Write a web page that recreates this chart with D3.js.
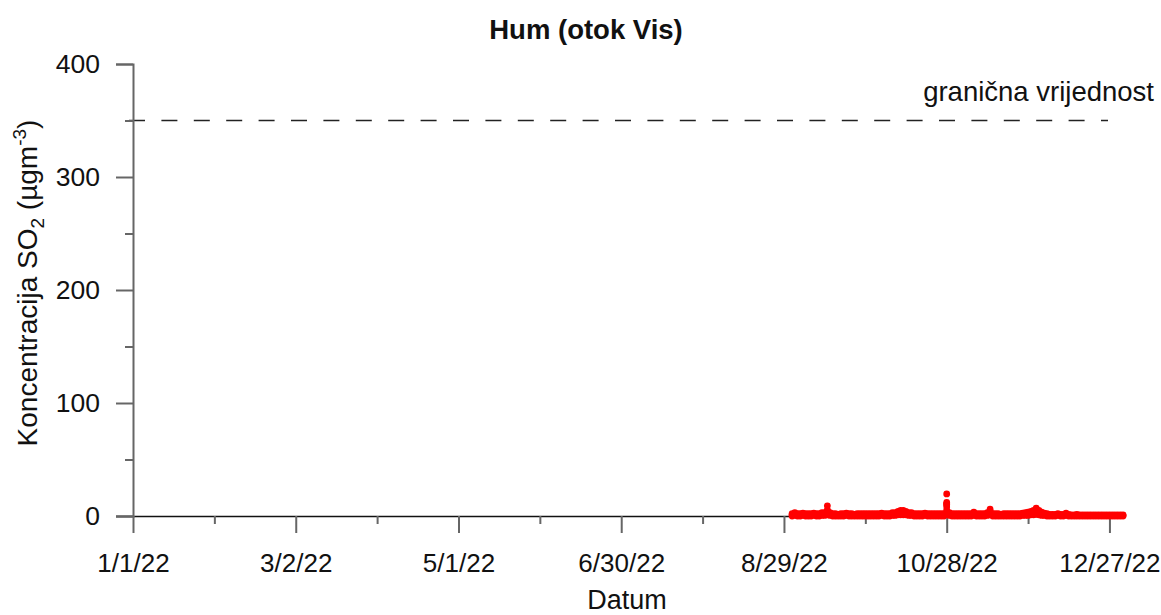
<!DOCTYPE html>
<html>
<head>
<meta charset="utf-8">
<script src="https://cdn.jsdelivr.net/npm/d3@7"></script>
<style>
  body { margin: 0; background: #fff; }
  text { font-family: "Liberation Sans", Arial, sans-serif; fill: #111; }
</style>
</head>
<body>
<div id="chart"></div>
<script>
// data: SO2 at Hum (Vis), Sep 1 2022 - Jan 1 2023 00h
var firstDay = "2022-09-01"

// daily highest reading (ugm-3)
var dailyMax = [
  // Sep
  2, 3, 2, 2, 2.5, 2, 2, 2, 2.5, 2, 2, 3, 3, 9, 3, 2, 2, 1.5, 2, 2, 2.5, 2, 2, 1.5, 2, 2, 2, 2, 2, 2,
  // Oct
  2, 2, 2, 2.5, 2, 2, 2, 3, 3, 4, 5, 5, 4, 3, 3, 2, 2, 2, 2, 2.5, 2, 2, 2, 2, 2, 2, 2, 19.5, 3, 2, 2,
  // Nov
  2, 2, 2, 2, 2, 2, 3.5, 2, 2, 2, 2, 3, 6, 2, 2, 2, 1.5, 2, 2, 2, 2, 2, 2, 2, 2.5, 3, 3.5, 4, 5, 7,
  // Dec
  5, 3.5, 2.5, 2, 1.5, 1.5, 1.5, 2, 1.5, 1.5, 2.5, 1.5, 1, 1, 1.5, 1, 1, 1, 1, 1, 1, 1, 1, 1, 1, 1, 1, 1, 1, 1, 1,
  // Jan 1, 00h
  1
]

// daily lowest reading (ugm-3)
var dailyMin = [
  0, 0.5, 0, 0, 0.5, 0, 0, 0, 0.5, 0, 0, 0.5, 0.5, 1, 0.5, 0, 0, 0, 0, 0, 0.5, 0, 0, 0, 0, 0, 0, 0, 0, 0,
  0, 0, 0, 0.5, 0, 0, 0, 0.5, 0.5, 1, 1, 1, 1, 0.5, 0.5, 0, 0, 0, 0, 0.5, 0, 0, 0, 0, 0, 0, 0, 2, 0.5, 0, 0,
  0, 0, 0, 0, 0, 0, 0.5, 0, 0, 0, 0, 0.5, 1, 0, 0, 0, 0, 0, 0, 0, 0, 0, 0, 0, 0.5, 0.5, 0.5, 1, 1, 1.5,
  1, 0.5, 0.5, 0, 0, 0, 0, 0.5, 0, 0, 0.5, 0, 0, 0, 0, 0, 0, 0, 0, 0, 0, 0, 0, 0, 0, 0, 0, 0, 0, 0, 0,
  0
]

// single high hours standing out above the band
var peakDates = ["2022-09-14", "2022-10-28", "2022-10-28", "2022-10-28", "2022-10-28", "2022-11-13", "2022-11-30"]
var peakValues = [5, 12, 10, 8, 5, 4, 4.5]

var limitValue = 350
var limitLabel = "granična vrijednost"

var xTickLabels = ["1/1/22", "3/2/22", "5/1/22", "6/30/22", "8/29/22", "10/28/22", "12/27/22"]
var yTicks = [0, 100, 200, 300, 400]
var yMinorTicks = [50, 150, 250, 350]

var title = "Hum (otok Vis)"
var xTitle = "Datum"


var width = 1161, height = 615

var svg = d3.select("#chart").append("svg")
  .attr("width", width)
  .attr("height", height)

var parseDay = d3.utcParse("%Y-%m-%d")
var parseTick = d3.utcParse("%m/%d/%y")
var fmtTick = d3.utcFormat("%-m/%-d/%y")

var x = d3.scaleUtc()
  .domain([parseDay("2022-01-01"), parseDay("2023-01-01")])
  .range([133, 1123])

var y = d3.scaleLinear()
  .domain([0, 400])
  .range([516, 64])

var xTicks = xTickLabels.map(parseTick)
var xMinor = xTicks.map(d => d3.utcDay.offset(d, 30)).slice(0, -1)

// points: daily min, middle and max
var start = parseDay(firstDay)
var points = []
dailyMax.forEach(function (v, i) {
  var day = d3.utcDay.offset(start, i)
  points.push({ date: day, value: dailyMin[i] })
  points.push({ date: day, value: (v + dailyMin[i]) / 2 })
  points.push({ date: day, value: v })
})
peakDates.forEach(function (d, i) {
  points.push({ date: parseDay(d), value: peakValues[i] })
})


// limit line
svg.append("line")
  .attr("x1", 129)
  .attr("x2", 1108)
  .attr("y1", y(limitValue))
  .attr("y2", y(limitValue))
  .attr("stroke", "#222")
  .attr("stroke-width", 1.5)
  .attr("stroke-dasharray", "16,16.4")

svg.append("text")
  .attr("x", 1154)
  .attr("y", 101)
  .attr("text-anchor", "end")
  .style("font-size", "27.5px")
  .text(limitLabel)


// x axis
var xAxis = svg.append("g")
  .attr("transform", `translate(0,${y(0)})`)
  .call(d3.axisBottom(x)
    .tickValues(xTicks)
    .tickFormat(fmtTick)
    .tickSize(17)
    .tickSizeOuter(0)
    .tickPadding(21))

xAxis.select(".domain")
  .attr("stroke", "#111")
  .attr("stroke-width", 1.5)
  .attr("d", `M116,0.5H${x.range()[1]}`)
xAxis.selectAll(".tick line")
  .attr("stroke", "#666")
  .attr("stroke-width", 2)
xAxis.selectAll("text")
  .style("font-size", "26px")
  .attr("fill", "#111")

svg.append("g")
  .attr("transform", `translate(0,${y(0)})`)
  .call(d3.axisBottom(x)
    .tickValues(xMinor)
    .tickFormat("")
    .tickSize(8)
    .tickSizeOuter(0))
  .call(g => g.select(".domain").remove())
  .selectAll(".tick line")
  .attr("stroke", "#666")
  .attr("stroke-width", 2)


// y axis
var yAxis = svg.append("g")
  .attr("transform", "translate(133,0)")
  .call(d3.axisLeft(y)
    .tickValues(yTicks)
    .tickSize(17)
    .tickSizeOuter(17)
    .tickPadding(16))

yAxis.select(".domain")
  .attr("stroke", "#666")
  .attr("stroke-width", 2)
yAxis.selectAll(".tick line")
  .attr("stroke", "#666")
  .attr("stroke-width", 2)
yAxis.selectAll("text")
  .style("font-size", "26.5px")
  .attr("fill", "#111")

svg.append("g")
  .attr("transform", "translate(133,0)")
  .call(d3.axisLeft(y)
    .tickValues(yMinorTicks)
    .tickFormat("")
    .tickSize(8)
    .tickSizeOuter(0))
  .call(g => g.select(".domain").remove())
  .selectAll(".tick line")
  .attr("stroke", "#666")
  .attr("stroke-width", 2)


// data dots
svg.append("g")
  .selectAll("circle")
  .data(points)
  .join("circle")
  .attr("cx", d => x(d.date))
  .attr("cy", d => y(d.value))
  .attr("r", 3.4)
  .attr("fill", "#ff0000")


// titles
svg.append("text")
  .attr("x", 586)
  .attr("y", 39)
  .attr("text-anchor", "middle")
  .style("font-size", "27.5px")
  .style("font-weight", "bold")
  .text(title)

svg.append("text")
  .attr("x", 627)
  .attr("y", 609)
  .attr("text-anchor", "middle")
  .style("font-size", "27px")
  .text(xTitle)

var yLab = svg.append("text")
  .attr("transform", "translate(37,283) rotate(-90)")
  .attr("text-anchor", "middle")
  .style("font-size", "28px")
yLab.append("tspan").text("Koncentracija SO")
yLab.append("tspan").attr("dy", 7).style("font-size", "19px").text("2")
yLab.append("tspan").attr("dy", -7).text(" (µgm")
yLab.append("tspan").attr("dy", -11).style("font-size", "19px").text("-3")
yLab.append("tspan").attr("dy", 11).text(")")
</script>
</body>
</html>
